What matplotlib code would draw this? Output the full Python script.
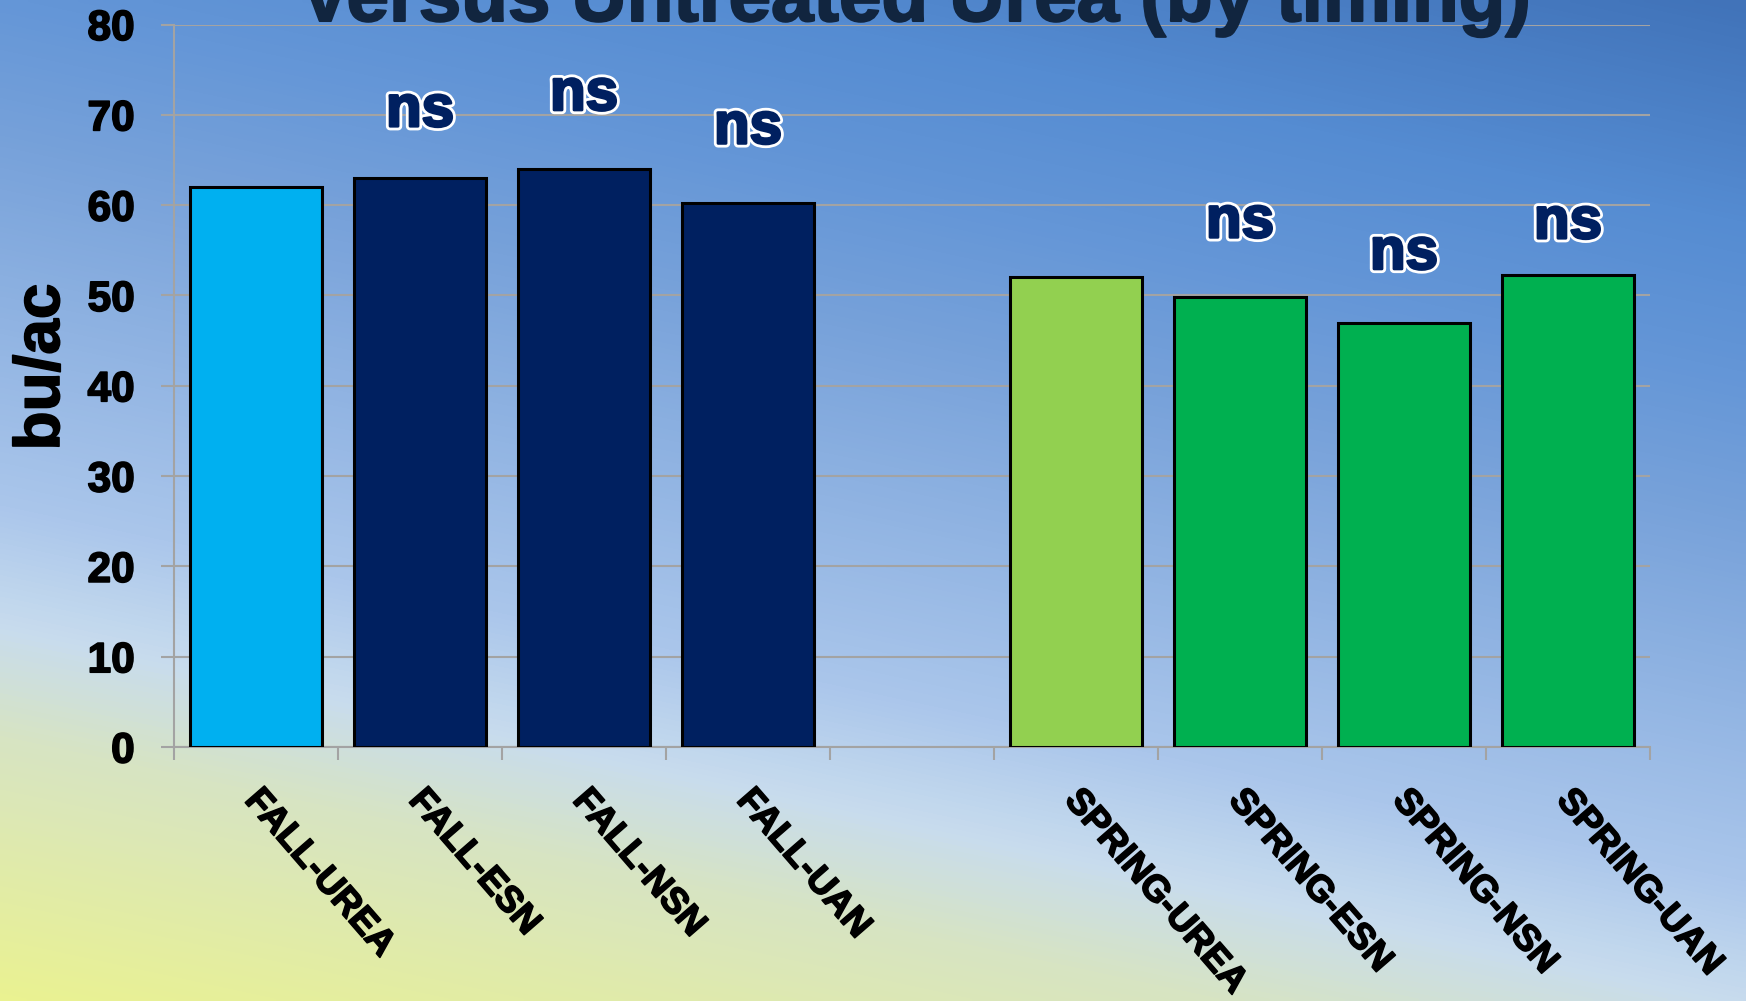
"""Yield of fall vs spring N sources compared with untreated urea."""

import numpy as np
import matplotlib
matplotlib.use("Agg")
import matplotlib.pyplot as plt
import matplotlib.patheffects as pe
from matplotlib.colors import LinearSegmentedColormap

plt.rcParams["font.family"] = ["Liberation Sans", "DejaVu Sans"]
plt.rcParams["font.weight"] = "bold"

TITLE = "Versus Untreated Urea (by timing)"
YLABEL = "bu/ac"

# one empty slot between the fall and spring groups
categories = ["FALL-UREA", "FALL-ESN", "FALL-NSN", "FALL-UAN", "",
              "SPRING-UREA", "SPRING-ESN", "SPRING-NSN", "SPRING-UAN"]
yields = [62.0, 63.0, 64.0, 60.2, None, 52.1, 49.8, 46.9, 52.3]
signif = ["", "ns", "ns", "ns", "", "", "ns", "ns", "ns"]
yticks = [0, 10, 20, 30, 40, 50, 60, 70, 80]

BAR_COLORS = ["#00B0F0", "#002060", "#002060", "#002060", None,
              "#92D050", "#00B050", "#00B050", "#00B050"]
NS_OFFSET = [0, 7.4, 8.2, 8.3, 0, 0, 8.3, 7.7, 5.7]
GRID = "#A3A3A3"

# background gradient stops (bottom-left yellow -> top-right blue)
BG_STOPS = [(0.00, "#EAF291"), (0.19, "#D7E4C3"), (0.27, "#C8DCEE"),
            (0.36, "#AAC6EB"), (0.62, "#78A2DA"), (0.73, "#6496D7"),
            (0.84, "#558CD2"), (1.00, "#4173B9")]

# thicken the strokes a little, the original uses a heavier face
HEAVY = [pe.withStroke(linewidth=1.2, foreground="black")]


def draw_background(fig):
    bg = fig.add_axes([0, 0, 1, 1], zorder=-10)
    w, h = 1746, 1001
    xs = np.linspace(0, w, 400)
    ys = np.linspace(h, 0, 230)  # row 0 is the top of the figure
    X, Y = np.meshgrid(xs, ys)
    d = np.array([0.211, 0.977])
    t = (X * d[0] + Y * d[1]) / (w * d[0] + h * d[1])
    cmap = LinearSegmentedColormap.from_list("bg", BG_STOPS)
    bg.imshow(t, cmap=cmap, vmin=0, vmax=1, aspect="auto",
              extent=[0, 1, 0, 1], interpolation="bilinear")
    bg.set_axis_off()


def main():
    fig = plt.figure(figsize=(17.46, 10.01), dpi=100)
    draw_background(fig)

    ax = fig.add_axes([0.0997, 0.2537, 0.8453, 0.7218])
    ax.set_facecolor("none")

    x = np.arange(len(categories))
    for i, (v, c) in enumerate(zip(yields, BAR_COLORS)):
        if v is None:
            continue
        ax.bar(x[i], v, width=0.81, color=c, edgecolor="black",
               linewidth=2.2, zorder=3)
        if signif[i]:
            ax.text(x[i], v + NS_OFFSET[i], signif[i], ha="center",
                    va="center", fontsize=42, fontweight="bold",
                    color="#002060", zorder=4,
                    path_effects=[pe.Stroke(linewidth=6, foreground="white"),
                                  pe.Stroke(linewidth=2, foreground="#002060"),
                                  pe.Normal()])
        ax.annotate(categories[i], xy=(x[i], 0),
                    xycoords=("data", "axes fraction"),
                    xytext=(8, -36), textcoords="offset pixels",
                    rotation=-49, rotation_mode="anchor", ha="left", va="top",
                    fontsize=26.5, fontweight="bold", color="black",
                    annotation_clip=False, path_effects=HEAVY)

    ax.set_xlim(-0.5, len(categories) - 0.5)
    ax.set_ylim(0, 80)
    ax.set_yticks(yticks)
    ax.set_yticklabels([str(t) for t in yticks], fontsize=30.5,
                       fontweight="bold")
    for lab in ax.get_yticklabels():
        lab.set_path_effects(HEAVY)
    ax.set_xticks(np.arange(len(categories) + 1) - 0.5)
    ax.set_xticklabels([])
    ax.tick_params(axis="both", colors=GRID, width=1.5, length=9.4,
                   direction="out")
    ax.tick_params(axis="y", labelcolor="black", pad=19)
    ax.grid(True, axis="y", color=GRID, linewidth=1.5, zorder=0)
    ax.set_axisbelow(True)
    for side in ("top", "right"):
        ax.spines[side].set_visible(False)
    for side in ("left", "bottom"):
        ax.spines[side].set_color(GRID)
        ax.spines[side].set_linewidth(1.5)

    fig.text(42 / 1746, 1 - 367 / 1001, YLABEL, rotation=90, ha="center",
             va="center", fontsize=46, fontweight="bold", color="black",
             path_effects=HEAVY)
    fig.text(915 / 1746, 1 - 21 / 1001, TITLE, ha="center", va="baseline",
             fontsize=55, fontweight="bold", color="#11253F",
             path_effects=[pe.withStroke(linewidth=1.5, foreground="#11253F")])

    fig.savefig("out.png", dpi=100)
    plt.close(fig)


if __name__ == "__main__":
    main()
